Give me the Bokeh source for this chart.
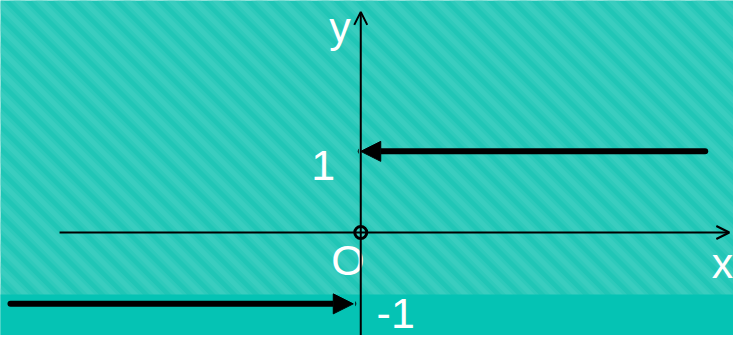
import numpy as np
from bokeh.plotting import figure
from bokeh.models import Arrow, NormalHead, OpenHead, Range1d
from bokeh.core.properties import value
from bokeh.embed import file_html
from bokeh.resources import INLINE

# --- data (one unit ~ distance from O to "1") ---
x_view = [-4.33, 4.48]
y_view = [-1.27, 2.86]
x_axis_span = [-3.62, 4.43]
y_axis_span = [-1.27, 2.72]
upper_ray_x = [4.14, 0.0]      # y = 1 for x > 0
upper_ray_y = 1.0
lower_ray_x = [-4.21, -0.09]   # lower level for x < 0
lower_ray_y = -0.88
origin = [0.0, 0.0]
shade_boundary = -0.765
labels = ["y", "1", "O", "x", "-1"]
label_x = [-0.25, -0.45, -0.155, 4.22, 0.19]
label_y = [2.53, 0.83, -0.34, -0.38, -1.0]
label_align = ["center", "center", "center", "left", "left"]

BASE = "#20c6b6"
LIGHT = "#4ad2c6"
PLAIN = "#05c3b4"

W, H = 733, 335
p = figure(width=W, height=H, output_backend="svg", toolbar_location=None,
           x_range=Range1d(*x_view), y_range=Range1d(*y_view), min_border=0)
p.axis.visible = False
p.grid.visible = False
p.outline_line_color = None
p.background_fill_color = BASE
p.border_fill_color = BASE

# striped texture: light 45-degree stripes running down to the right
ux = W / (x_view[1] - x_view[0])
uy = H / (y_view[1] - y_view[0])
stripe_period = 22.0 / ux
top = y_view[1] + 0.2
bottom = shade_boundary - 0.2
shift = (top - bottom) * uy / ux
starts = np.arange(x_view[0] - shift - 0.3, x_view[1] + 0.3, stripe_period)
xs = [[s, s + shift] for s in starts]
ys = [[top, bottom] for _ in xs]
p.multi_line(xs=xs, ys=ys, line_color=LIGHT, line_width=11, line_alpha=0.35)
p.multi_line(xs=xs, ys=ys, line_color=LIGHT, line_width=5, line_alpha=0.4)

# plain lower band
p.quad(left=x_view[0] - 1, right=x_view[1] + 1, bottom=y_view[0] - 1, top=shade_boundary,
       fill_color=PLAIN, line_color=None)

# axes
p.add_layout(Arrow(end=OpenHead(size=13, line_width=2, line_color="black"),
                   x_start=x_axis_span[0], y_start=0, x_end=x_axis_span[1], y_end=0,
                   line_width=2, line_color="black"))
p.add_layout(Arrow(end=OpenHead(size=13, line_width=2, line_color="black"),
                   x_start=0, y_start=y_axis_span[0], x_end=0, y_end=y_axis_span[1],
                   line_width=2, line_color="black"))

# rays
p.add_layout(Arrow(end=NormalHead(size=20, fill_color="black", line_color="black", line_width=1),
                   x_start=upper_ray_x[0], y_start=upper_ray_y, x_end=upper_ray_x[1], y_end=upper_ray_y,
                   line_width=6, line_color="black", line_cap="round"))
p.add_layout(Arrow(end=NormalHead(size=20, fill_color="black", line_color="black", line_width=1),
                   x_start=lower_ray_x[0], y_start=lower_ray_y, x_end=lower_ray_x[1], y_end=lower_ray_y,
                   line_width=6, line_color="black", line_cap="round"))

# open circle at origin
p.scatter([origin[0]], [origin[1]], marker="circle", size=12, fill_color=None,
          line_color="black", line_width=3)

p.text(x=label_x, y=label_y, text=labels, text_align=label_align,
       text_baseline="alphabetic", text_color="white", text_font_size="43px",
       text_font=value("Liberation Sans"))

open("out.html", "w").write(file_html(p, INLINE))
